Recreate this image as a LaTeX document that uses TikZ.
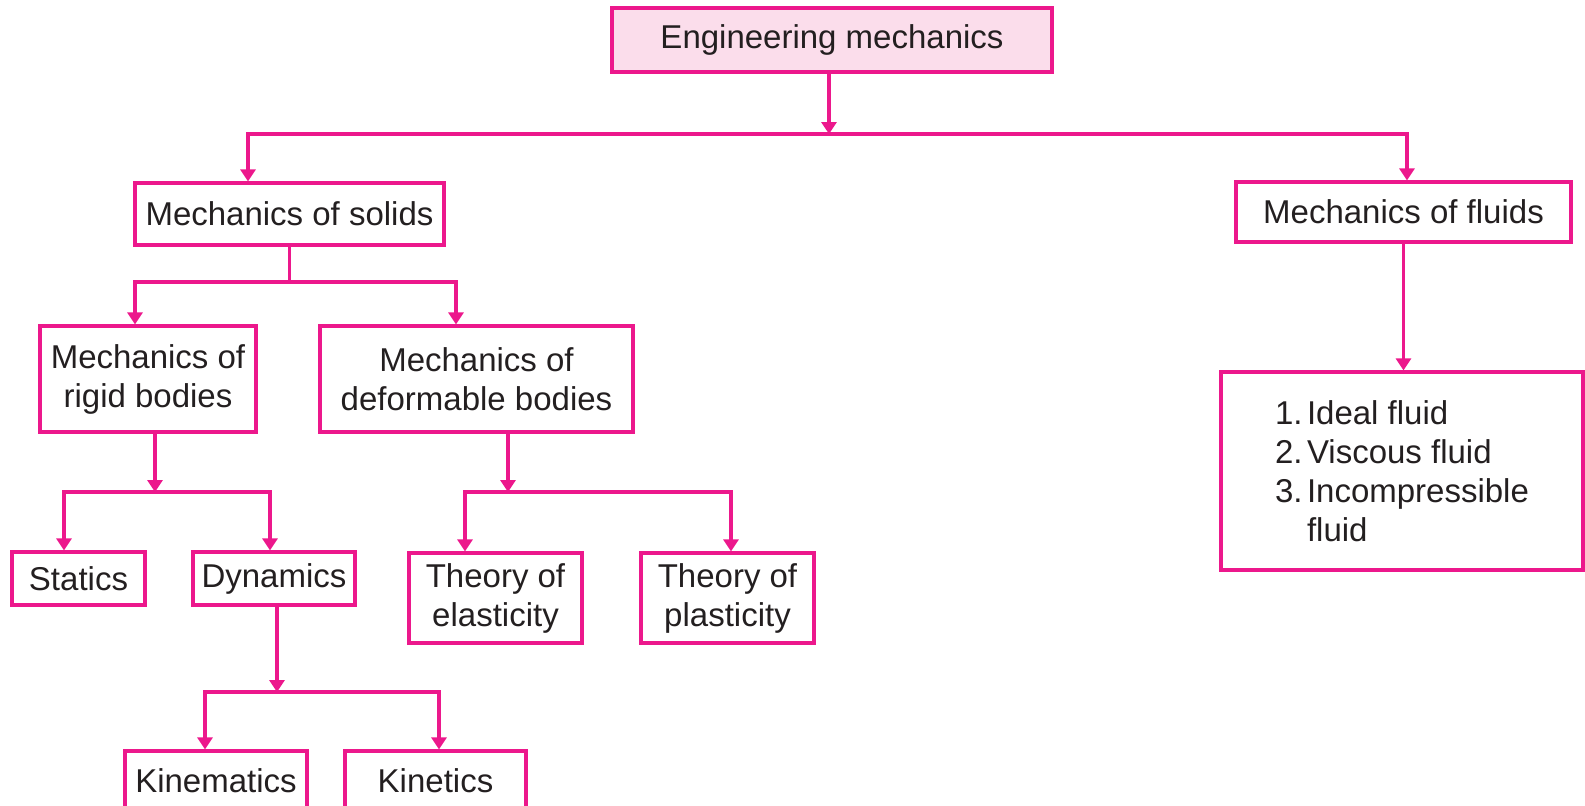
\documentclass[tikz,border=0pt]{standalone}
\usepackage{fontspec}
\setmainfont{Liberation Sans}
\usetikzlibrary{arrows.meta}
\definecolor{pk}{RGB}{236,24,140}
\definecolor{pkfill}{RGB}{251,221,235}
\definecolor{ink}{RGB}{35,31,32}
\newcommand{\numsep}{\hspace{2.2pt}}
\begin{document}
\begin{tikzpicture}[x=0.5pt,y=-0.5pt,
  box/.style={draw=pk, line width=1.6pt, inner sep=0pt, align=center, text=ink,
    anchor=center, font=\fontsize{16.5}{19.5}\selectfont},
  conn/.style={draw=pk, line width=1.6pt},
  arr/.style={conn, -{Triangle[width=7.5pt,length=6pt]}},
  arrtwo/.style={conn, {Triangle[width=7.5pt,length=6pt]}-{Triangle[width=7.5pt,length=6pt]}},
]
\useasboundingbox (0,0) rectangle (1585,805);

% boxes
\node[box, fill=pkfill, minimum width=220pt, minimum height=32pt] (eng) at (832,40) {Engineering mechanics};
\node[box, minimum width=154.5pt, minimum height=31pt] (solids) at (289.5,214) {Mechanics of solids};
\node[box, minimum width=167.5pt, minimum height=30pt] (fluids) at (1403.5,212) {Mechanics of fluids};
\node[box, minimum width=108pt, minimum height=53pt] (rigid) at (148,379) {Mechanics of\\rigid bodies};
\node[box, minimum width=156.5pt, minimum height=53pt] (deform) at (476.5,379) {Mechanics of\\deformable bodies};
\node[box, minimum width=66.5pt, minimum height=26.5pt] (statics) at (78.5,578.5) {Statics};
\node[box, minimum width=81pt, minimum height=26.5pt] (dyn) at (274,578.5) {Dynamics};
\node[box, minimum width=86.5pt, minimum height=45pt] (elast) at (495.5,598) {Theory of\\elasticity};
\node[box, minimum width=86.5pt, minimum height=45pt] (plast) at (727.5,598) {Theory of\\plasticity};
\node[box, minimum width=91pt, minimum height=29.5pt] (kinem) at (216,780.5) {Kinematics};
\node[box, minimum width=90.5pt, minimum height=29.5pt] (kinet) at (435.5,780.5) {Kinetics};
\node[box, align=left, minimum width=181pt, minimum height=99pt] (list) at (1402,471)
  {1.\numsep Ideal fluid\\2.\numsep Viscous fluid\\3.\numsep Incompressible\\\hphantom{3.\numsep}fluid};

% junction coordinates
\coordinate (b1) at (829,134);
\coordinate (b1l) at (248,134);
\coordinate (b1r) at (1407,134);
\coordinate (b2l) at (135,282);
\coordinate (b2r) at (456,282);
\coordinate (b3) at (155,492);
\coordinate (b3l) at (64,492);
\coordinate (b3r) at (270,492);
\coordinate (b4) at (508,492);
\coordinate (b4l) at (465,492);
\coordinate (b4r) at (731,492);
\coordinate (b5) at (277,692);
\coordinate (b5l) at (205,692);
\coordinate (b5r) at (439,692);

% connectors
\draw[arr] (b1 |- eng.south) -- (b1);
\draw[arrtwo] (b1l |- solids.north) -- (b1l) -- (b1r) -- (b1r |- fluids.north);

\draw[conn] (solids.south) -- (solids.south |- b2l);
\draw[arrtwo] (b2l |- rigid.north) -- (b2l) -- (b2r) -- (b2r |- deform.north);

\draw[arr] (b3 |- rigid.south) -- (b3);
\draw[arrtwo] (b3l |- statics.north) -- (b3l) -- (b3r) -- (b3r |- dyn.north);

\draw[arr] (b4 |- deform.south) -- (b4);
\draw[arrtwo] (b4l |- elast.north) -- (b4l) -- (b4r) -- (b4r |- plast.north);

\draw[arr] (b5 |- dyn.south) -- (b5);
\draw[arrtwo] (b5l |- kinem.north) -- (b5l) -- (b5r) -- (b5r |- kinet.north);

\draw[arr] (fluids.south) -- (fluids.south |- list.north);
\end{tikzpicture}
\end{document}
